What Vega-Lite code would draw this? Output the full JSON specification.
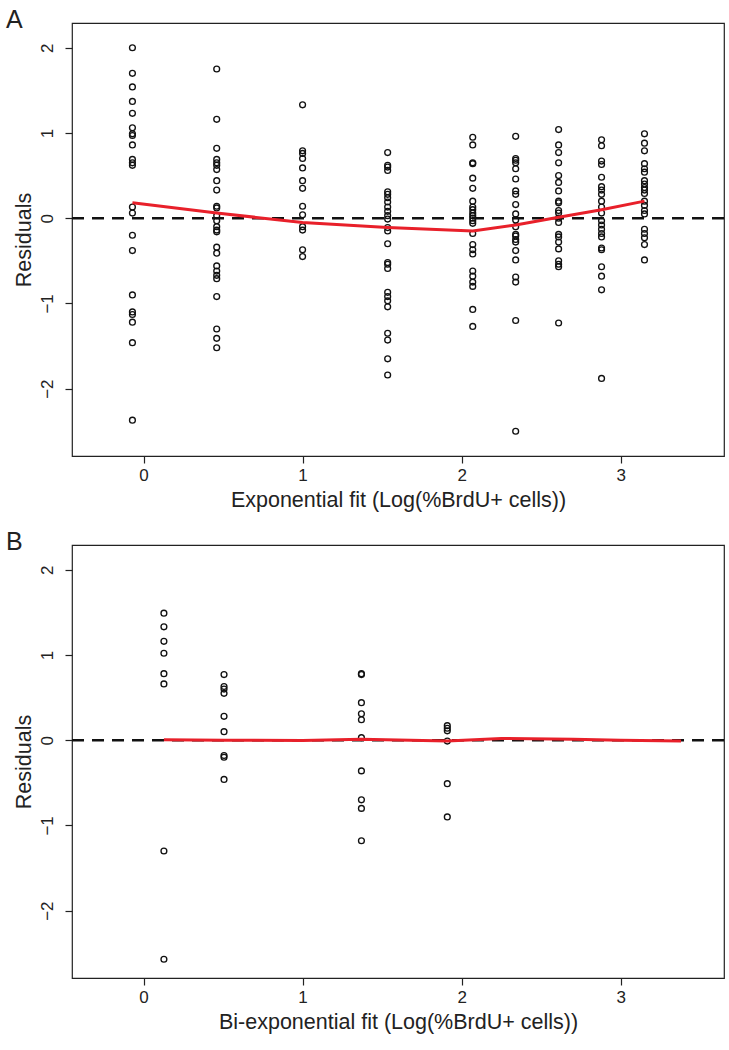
{
  "$schema": "https://vega.github.io/schema/vega-lite/v6.json",
  "padding": {"left": 5, "top": 7, "right": 7, "bottom": 5},
  "background": "white",
  "bounds": "flush",
  "spacing": 89,
  "config": {
    "font": "Liberation Sans",
    "view": {"stroke": "#222222", "strokeWidth": 1.2},
    "axis": {
      "domain": false, "grid": false, "tickColor": "#222222", "tickSize": 7, "tickWidth": 1.2,
      "labelFont": "Liberation Sans", "labelFontSize": 17, "labelColor": "#222222",
      "titleFont": "Liberation Sans", "titleFontSize": 21.5, "titleFontWeight": "normal", "titleColor": "#222222"
    },
    "title": {"font": "Liberation Sans", "fontSize": 25, "fontWeight": "normal", "color": "#222222"}
  },
  "datasets": {
    "ptsA": [
      {"x": -0.07, "y": 2.0}, {"x": -0.07, "y": 1.7}, {"x": -0.07, "y": 1.54}, {"x": -0.07, "y": 1.37}, {"x": -0.07, "y": 1.23}, {"x": -0.07, "y": 1.06}, {"x": -0.07, "y": 0.99}, {"x": -0.07, "y": 0.97}, {"x": -0.07, "y": 0.86}, {"x": -0.07, "y": 0.69}, {"x": -0.07, "y": 0.65}, {"x": -0.07, "y": 0.62}, {"x": -0.07, "y": 0.13}, {"x": -0.07, "y": 0.06}, {"x": -0.07, "y": -0.2}, {"x": -0.07, "y": -0.38}, {"x": -0.07, "y": -0.9}, {"x": -0.07, "y": -1.1}, {"x": -0.07, "y": -1.13}, {"x": -0.07, "y": -1.22}, {"x": -0.07, "y": -1.46}, {"x": -0.07, "y": -2.37},
      {"x": 0.46, "y": 1.75}, {"x": 0.46, "y": 1.16}, {"x": 0.46, "y": 0.82}, {"x": 0.46, "y": 0.69}, {"x": 0.46, "y": 0.65}, {"x": 0.46, "y": 0.62}, {"x": 0.46, "y": 0.57}, {"x": 0.46, "y": 0.44}, {"x": 0.46, "y": 0.33}, {"x": 0.46, "y": 0.14}, {"x": 0.46, "y": 0.12}, {"x": 0.46, "y": 0.03}, {"x": 0.46, "y": -0.03}, {"x": 0.46, "y": -0.1}, {"x": 0.46, "y": -0.14}, {"x": 0.46, "y": -0.16}, {"x": 0.46, "y": -0.34}, {"x": 0.46, "y": -0.41}, {"x": 0.46, "y": -0.56}, {"x": 0.46, "y": -0.62}, {"x": 0.46, "y": -0.67}, {"x": 0.46, "y": -0.71}, {"x": 0.46, "y": -0.92}, {"x": 0.46, "y": -1.3}, {"x": 0.46, "y": -1.41}, {"x": 0.46, "y": -1.52},
      {"x": 1.0, "y": 1.33}, {"x": 1.0, "y": 0.79}, {"x": 1.0, "y": 0.76}, {"x": 1.0, "y": 0.7}, {"x": 1.0, "y": 0.59}, {"x": 1.0, "y": 0.44}, {"x": 1.0, "y": 0.35}, {"x": 1.0, "y": 0.14}, {"x": 1.0, "y": 0.04}, {"x": 1.0, "y": -0.1}, {"x": 1.0, "y": -0.14}, {"x": 1.0, "y": -0.37}, {"x": 1.0, "y": -0.45},
      {"x": 1.535, "y": 0.77}, {"x": 1.535, "y": 0.62}, {"x": 1.535, "y": 0.6}, {"x": 1.535, "y": 0.56}, {"x": 1.535, "y": 0.31}, {"x": 1.535, "y": 0.28}, {"x": 1.535, "y": 0.24}, {"x": 1.535, "y": 0.19}, {"x": 1.535, "y": 0.13}, {"x": 1.535, "y": 0.08}, {"x": 1.535, "y": 0.03}, {"x": 1.535, "y": -0.01}, {"x": 1.535, "y": -0.11}, {"x": 1.535, "y": -0.15}, {"x": 1.535, "y": -0.3}, {"x": 1.535, "y": -0.52}, {"x": 1.535, "y": -0.54}, {"x": 1.535, "y": -0.59}, {"x": 1.535, "y": -0.87}, {"x": 1.535, "y": -0.92}, {"x": 1.535, "y": -0.97}, {"x": 1.535, "y": -1.04}, {"x": 1.535, "y": -1.35}, {"x": 1.535, "y": -1.43}, {"x": 1.535, "y": -1.65}, {"x": 1.535, "y": -1.84},
      {"x": 2.07, "y": 0.95}, {"x": 2.07, "y": 0.86}, {"x": 2.07, "y": 0.65}, {"x": 2.07, "y": 0.64}, {"x": 2.07, "y": 0.47}, {"x": 2.07, "y": 0.35}, {"x": 2.07, "y": 0.2}, {"x": 2.07, "y": 0.13}, {"x": 2.07, "y": 0.1}, {"x": 2.07, "y": 0.06}, {"x": 2.07, "y": 0.03}, {"x": 2.07, "y": 0.0}, {"x": 2.07, "y": -0.03}, {"x": 2.07, "y": -0.06}, {"x": 2.07, "y": -0.18}, {"x": 2.07, "y": -0.31}, {"x": 2.07, "y": -0.37}, {"x": 2.07, "y": -0.42}, {"x": 2.07, "y": -0.62}, {"x": 2.07, "y": -0.68}, {"x": 2.07, "y": -0.75}, {"x": 2.07, "y": -0.8}, {"x": 2.07, "y": -1.07}, {"x": 2.07, "y": -1.27},
      {"x": 2.34, "y": 0.96}, {"x": 2.34, "y": 0.7}, {"x": 2.34, "y": 0.68}, {"x": 2.34, "y": 0.65}, {"x": 2.34, "y": 0.58}, {"x": 2.34, "y": 0.46}, {"x": 2.34, "y": 0.32}, {"x": 2.34, "y": 0.28}, {"x": 2.34, "y": 0.16}, {"x": 2.34, "y": 0.05}, {"x": 2.34, "y": -0.02}, {"x": 2.34, "y": -0.1}, {"x": 2.34, "y": -0.19}, {"x": 2.34, "y": -0.21}, {"x": 2.34, "y": -0.25}, {"x": 2.34, "y": -0.28}, {"x": 2.34, "y": -0.38}, {"x": 2.34, "y": -0.49}, {"x": 2.34, "y": -0.69}, {"x": 2.34, "y": -0.75}, {"x": 2.34, "y": -1.2}, {"x": 2.34, "y": -2.5},
      {"x": 2.61, "y": 1.04}, {"x": 2.61, "y": 0.86}, {"x": 2.61, "y": 0.77}, {"x": 2.61, "y": 0.65}, {"x": 2.61, "y": 0.5}, {"x": 2.61, "y": 0.42}, {"x": 2.61, "y": 0.32}, {"x": 2.61, "y": 0.2}, {"x": 2.61, "y": 0.18}, {"x": 2.61, "y": 0.09}, {"x": 2.61, "y": 0.06}, {"x": 2.61, "y": 0.0}, {"x": 2.61, "y": -0.05}, {"x": 2.61, "y": -0.19}, {"x": 2.61, "y": -0.22}, {"x": 2.61, "y": -0.28}, {"x": 2.61, "y": -0.36}, {"x": 2.61, "y": -0.5}, {"x": 2.61, "y": -0.54}, {"x": 2.61, "y": -0.57}, {"x": 2.61, "y": -1.23},
      {"x": 2.88, "y": 0.92}, {"x": 2.88, "y": 0.85}, {"x": 2.88, "y": 0.67}, {"x": 2.88, "y": 0.63}, {"x": 2.88, "y": 0.48}, {"x": 2.88, "y": 0.37}, {"x": 2.88, "y": 0.33}, {"x": 2.88, "y": 0.28}, {"x": 2.88, "y": 0.2}, {"x": 2.88, "y": 0.13}, {"x": 2.88, "y": 0.06}, {"x": 2.88, "y": -0.03}, {"x": 2.88, "y": -0.08}, {"x": 2.88, "y": -0.13}, {"x": 2.88, "y": -0.18}, {"x": 2.88, "y": -0.22}, {"x": 2.88, "y": -0.35}, {"x": 2.88, "y": -0.37}, {"x": 2.88, "y": -0.57}, {"x": 2.88, "y": -0.68}, {"x": 2.88, "y": -0.84}, {"x": 2.88, "y": -1.88},
      {"x": 3.15, "y": 0.99}, {"x": 3.15, "y": 0.88}, {"x": 3.15, "y": 0.79}, {"x": 3.15, "y": 0.64}, {"x": 3.15, "y": 0.58}, {"x": 3.15, "y": 0.54}, {"x": 3.15, "y": 0.44}, {"x": 3.15, "y": 0.4}, {"x": 3.15, "y": 0.36}, {"x": 3.15, "y": 0.33}, {"x": 3.15, "y": 0.29}, {"x": 3.15, "y": 0.2}, {"x": 3.15, "y": 0.15}, {"x": 3.15, "y": 0.09}, {"x": 3.15, "y": 0.05}, {"x": 3.15, "y": -0.13}, {"x": 3.15, "y": -0.18}, {"x": 3.15, "y": -0.23}, {"x": 3.15, "y": -0.31}, {"x": 3.15, "y": -0.49}
    ],
    "fitA": [
      {"x": -0.07, "y": 0.18}, {"x": 0.46, "y": 0.06}, {"x": 1.0, "y": -0.05}, {"x": 1.535, "y": -0.11}, {"x": 2.07, "y": -0.15}, {"x": 2.34, "y": -0.08}, {"x": 2.61, "y": 0.01}, {"x": 2.88, "y": 0.1}, {"x": 3.15, "y": 0.2}
    ],
    "ptsB": [
      {"x": 0.128, "y": 1.49}, {"x": 0.128, "y": 1.33}, {"x": 0.128, "y": 1.16}, {"x": 0.128, "y": 1.02}, {"x": 0.128, "y": 0.78}, {"x": 0.128, "y": 0.66}, {"x": 0.128, "y": -1.3}, {"x": 0.128, "y": -2.57},
      {"x": 0.506, "y": 0.77}, {"x": 0.506, "y": 0.63}, {"x": 0.506, "y": 0.6}, {"x": 0.506, "y": 0.55}, {"x": 0.506, "y": 0.28}, {"x": 0.506, "y": 0.1}, {"x": 0.506, "y": -0.18}, {"x": 0.506, "y": -0.2}, {"x": 0.506, "y": -0.46},
      {"x": 1.37, "y": 0.78}, {"x": 1.37, "y": 0.77}, {"x": 1.37, "y": 0.44}, {"x": 1.37, "y": 0.31}, {"x": 1.37, "y": 0.24}, {"x": 1.37, "y": 0.03}, {"x": 1.37, "y": -0.36}, {"x": 1.37, "y": -0.7}, {"x": 1.37, "y": -0.8}, {"x": 1.37, "y": -1.18},
      {"x": 1.91, "y": 0.17}, {"x": 1.91, "y": 0.14}, {"x": 1.91, "y": 0.11}, {"x": 1.91, "y": -0.01}, {"x": 1.91, "y": -0.51}, {"x": 1.91, "y": -0.9}
    ],
    "fitB": [
      {"x": 0.128, "y": 0.005}, {"x": 0.506, "y": 0.0}, {"x": 1.0, "y": -0.005}, {"x": 1.37, "y": 0.01}, {"x": 1.91, "y": -0.01}, {"x": 2.25, "y": 0.02}, {"x": 2.7, "y": 0.01}, {"x": 3.0, "y": 0.0}, {"x": 3.38, "y": -0.01}
    ],
    "zero": [{"z": 0}]
  },
  "vconcat": [
    {
      "title": {"text": "A", "anchor": "start", "frame": "group", "dx": -66, "baseline": "alphabetic", "offset": 0, "dy": 30},
      "width": 652, "height": 433,
      "layer": [
        {"data": {"name": "ptsA"}, "mark": {"type": "point", "shape": "circle", "filled": false, "color": "#111111", "size": 34, "strokeWidth": 1.35, "opacity": 1},
         "encoding": {
          "x": {"field": "x", "type": "quantitative", "scale": {"domain": [-0.45, 3.65], "nice": false, "zero": false},
                "axis": {"values": [0, 1, 2, 3], "format": "d", "labelPadding": 4, "titlePadding": 6, "title": "Exponential fit (Log(%BrdU+ cells))"}},
          "y": {"field": "y", "type": "quantitative", "scale": {"domain": [-2.79, 2.29], "nice": false, "zero": false},
                "axis": {"values": [-2, -1, 0, 1, 2], "format": "d", "labelAngle": -90, "labelAlign": "center", "labelBaseline": "bottom", "labelPadding": 9, "titlePadding": 3, "title": "Residuals"}}
         }},
        {"data": {"name": "zero"}, "mark": {"type": "rule", "color": "#111111", "strokeWidth": 2.6, "strokeDash": [12, 8]}, "encoding": {"y": {"datum": 0, "type": "quantitative"}}},
        {"data": {"name": "fitA"}, "mark": {"type": "line", "color": "#e8202a", "strokeWidth": 3},
         "encoding": {"x": {"field": "x", "type": "quantitative"}, "y": {"field": "y", "type": "quantitative"}}}
      ]
    },
    {
      "title": {"text": "B", "anchor": "start", "frame": "group", "dx": -66, "baseline": "alphabetic", "offset": 0, "dy": 30},
      "width": 652, "height": 433,
      "layer": [
        {"data": {"name": "ptsB"}, "mark": {"type": "point", "shape": "circle", "filled": false, "color": "#111111", "size": 34, "strokeWidth": 1.35, "opacity": 1},
         "encoding": {
          "x": {"field": "x", "type": "quantitative", "scale": {"domain": [-0.45, 3.65], "nice": false, "zero": false},
                "axis": {"values": [0, 1, 2, 3], "format": "d", "labelPadding": 4, "titlePadding": 6, "title": "Bi-exponential fit (Log(%BrdU+ cells))"}},
          "y": {"field": "y", "type": "quantitative", "scale": {"domain": [-2.79, 2.29], "nice": false, "zero": false},
                "axis": {"values": [-2, -1, 0, 1, 2], "format": "d", "labelAngle": -90, "labelAlign": "center", "labelBaseline": "bottom", "labelPadding": 9, "titlePadding": 3, "title": "Residuals"}}
         }},
        {"data": {"name": "zero"}, "mark": {"type": "rule", "color": "#111111", "strokeWidth": 2.6, "strokeDash": [12, 8]}, "encoding": {"y": {"datum": 0, "type": "quantitative"}}},
        {"data": {"name": "fitB"}, "mark": {"type": "line", "color": "#e8202a", "strokeWidth": 3},
         "encoding": {"x": {"field": "x", "type": "quantitative"}, "y": {"field": "y", "type": "quantitative"}}}
      ]
    }
  ]
}
